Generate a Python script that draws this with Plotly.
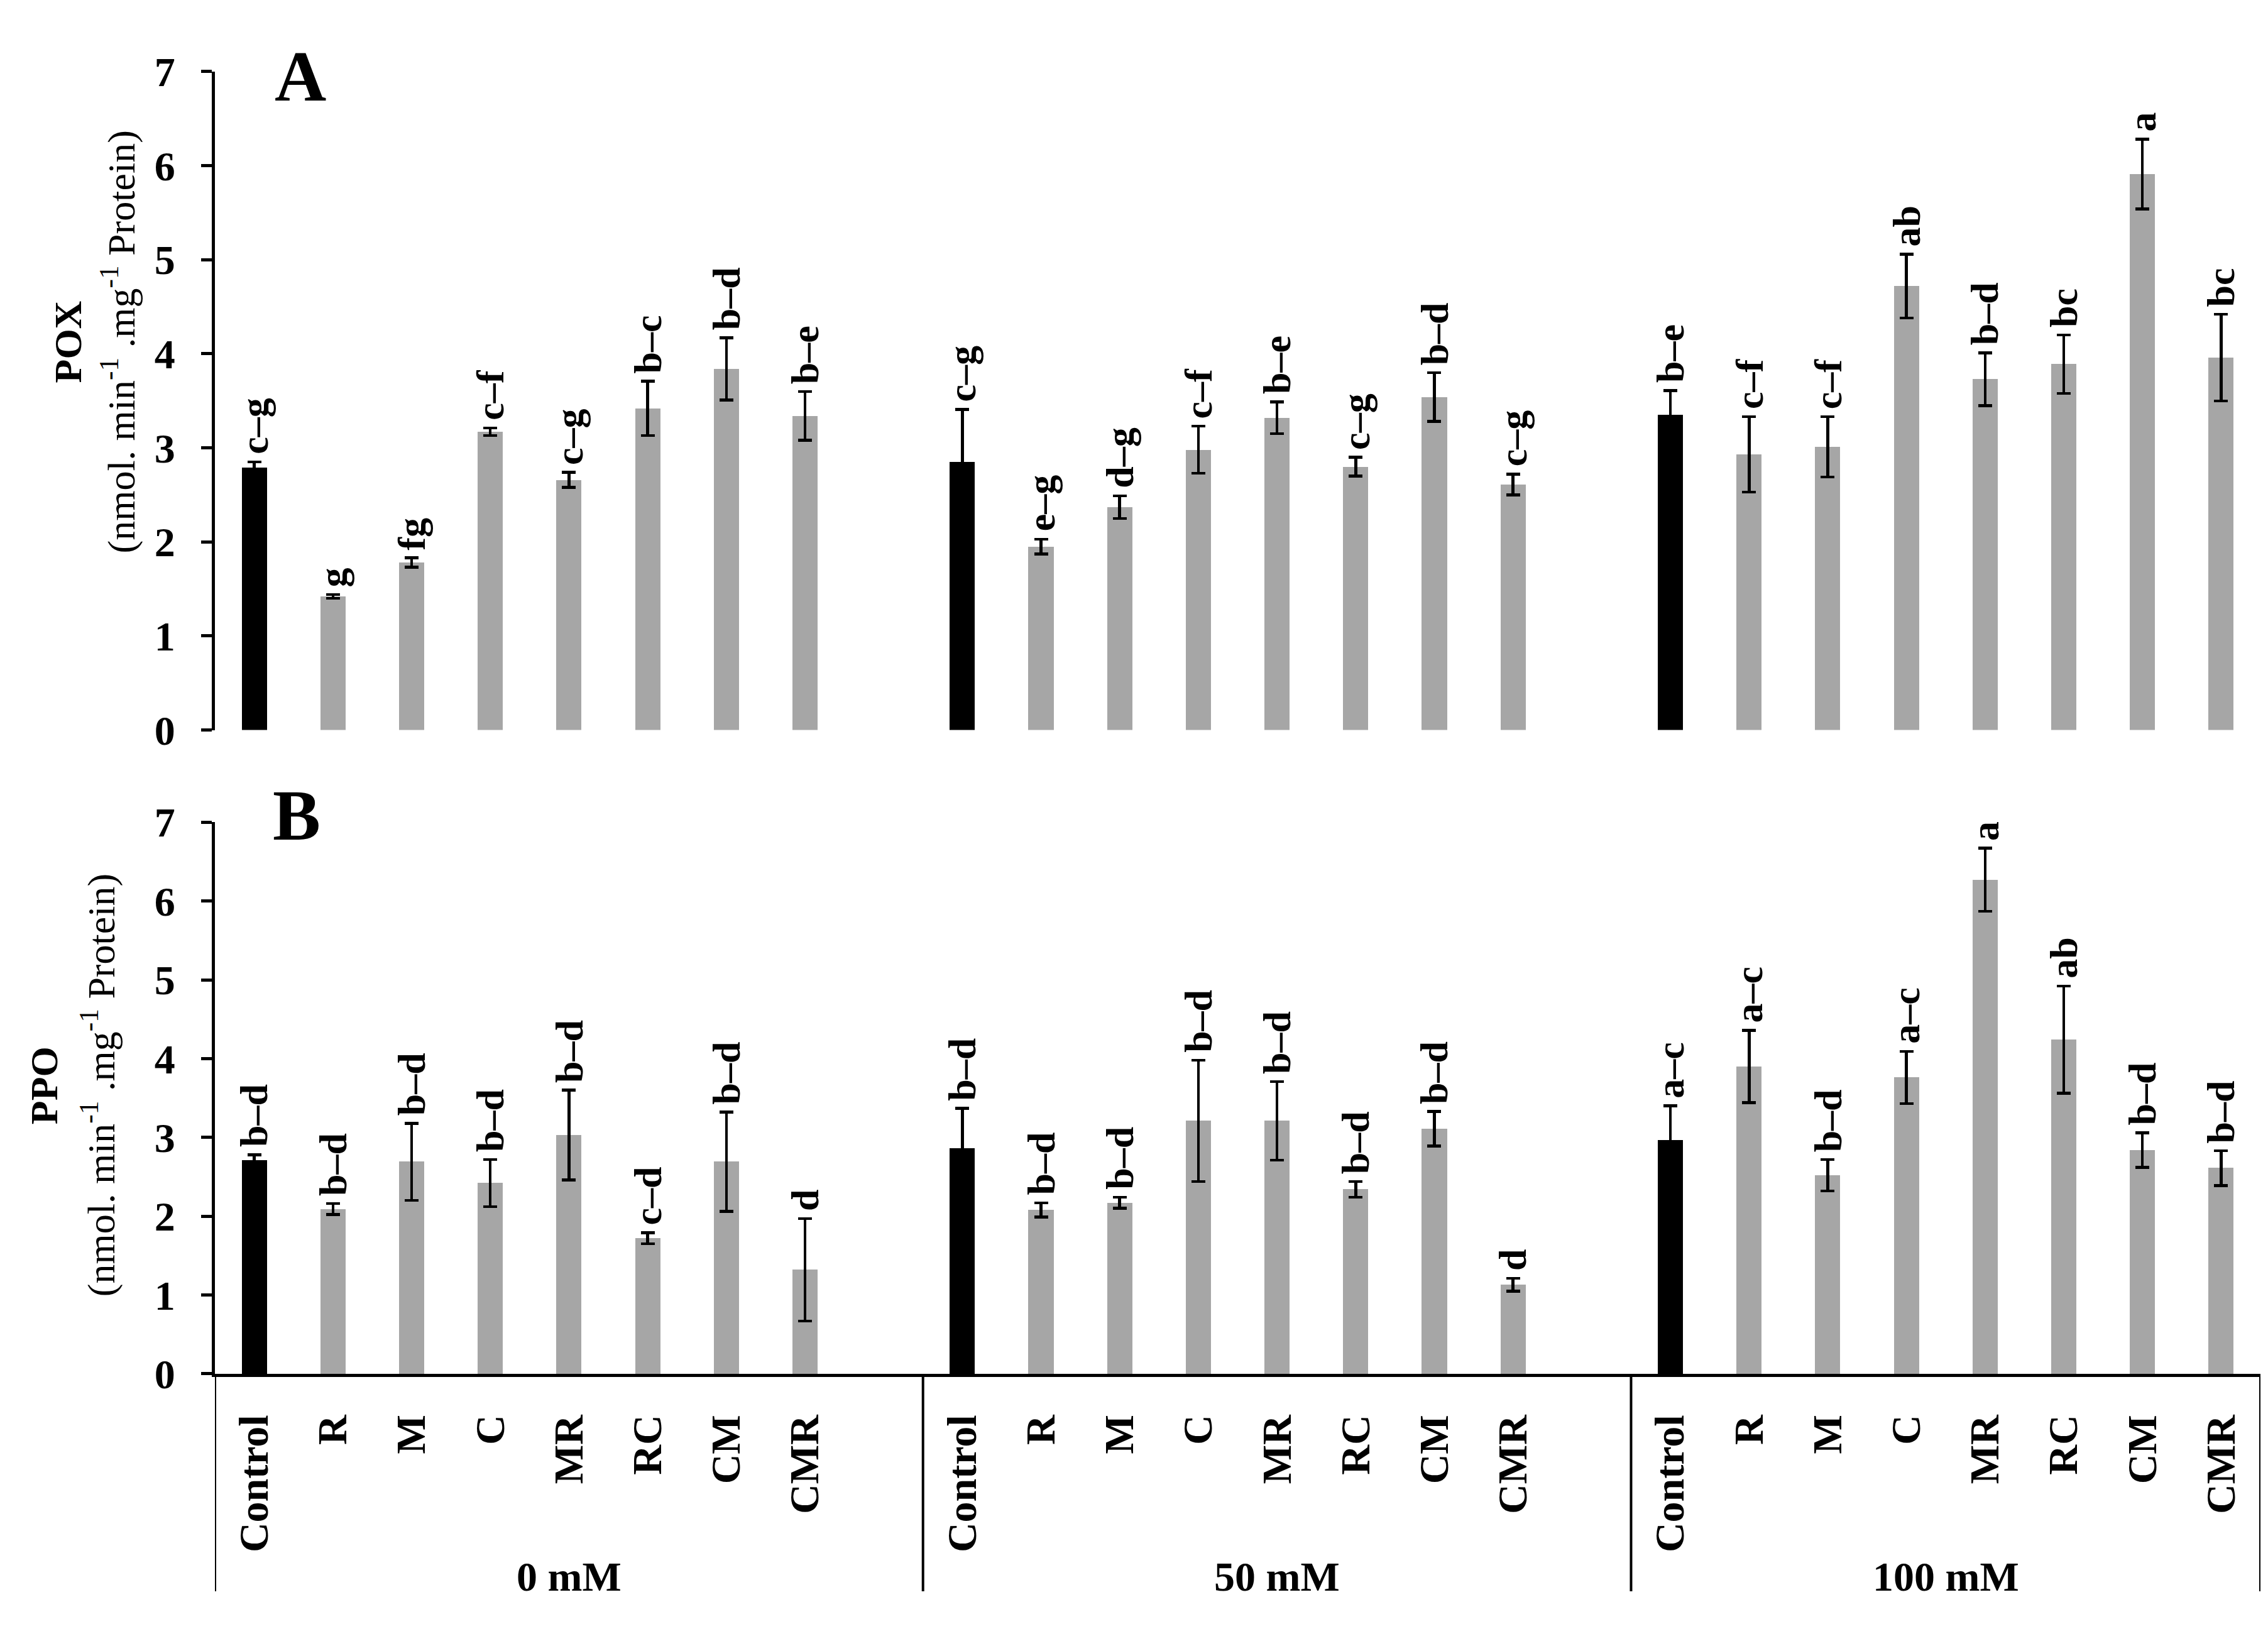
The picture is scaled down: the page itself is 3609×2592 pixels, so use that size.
import plotly.graph_objects as go

# ---------------- data ----------------
treatments = ["Control", "R", "M", "C", "MR", "RC", "CM", "CMR"]
groups = ["0 mM", "50 mM", "100 mM"]

pox_0 = [2.79, 1.42, 1.78, 3.17, 2.66, 3.42, 3.84, 3.34]
pox_50 = [2.85, 1.95, 2.37, 2.98, 3.32, 2.80, 3.54, 2.61]
pox_100 = [3.35, 2.93, 3.01, 4.72, 3.73, 3.89, 5.91, 3.96]
pox_err_0 = [0.06, 0.02, 0.05, 0.04, 0.08, 0.29, 0.33, 0.26]
pox_err_50 = [0.56, 0.08, 0.12, 0.25, 0.17, 0.10, 0.26, 0.11]
pox_err_100 = [0.26, 0.40, 0.32, 0.34, 0.28, 0.31, 0.37, 0.46]
pox_let_0 = ["c–g", "g", "fg", "c–f", "c–g", "b–c", "b–d", "b–e"]
pox_let_50 = ["c–g", "e–g", "d–g", "c–f", "b–e", "c–g", "b–d", "c–g"]
pox_let_100 = ["b–e", "c–f", "c–f", "ab", "b–d", "bc", "a", "bc"]

ppo_0 = [2.71, 2.09, 2.69, 2.42, 3.03, 1.72, 2.69, 1.32]
ppo_50 = [2.86, 2.08, 2.17, 3.21, 3.21, 2.34, 3.11, 1.13]
ppo_100 = [2.96, 3.90, 2.52, 3.76, 6.27, 4.24, 2.84, 2.61]
ppo_err_0 = [0.07, 0.07, 0.49, 0.30, 0.57, 0.07, 0.63, 0.65]
ppo_err_50 = [0.51, 0.09, 0.07, 0.77, 0.50, 0.10, 0.22, 0.08]
ppo_err_100 = [0.44, 0.46, 0.20, 0.33, 0.40, 0.68, 0.22, 0.22]
ppo_let_0 = ["b–d", "b–d", "b–d", "b–d", "b–d", "c–d", "b–d", "d"]
ppo_let_50 = ["b–d", "b–d", "b–d", "b–d", "b–d", "b–d", "b–d", "d"]
ppo_let_100 = ["a–c", "a–c", "b–d", "a–c", "a", "ab", "b–d", "b–d"]

# ---------------- styling ----------------
W, H = 3609, 2592
FONT = "Liberation Serif, Times New Roman, serif"
BLACK = "#000000"
GRAY = "#A6A6A6"
FS = 62        # bar letters / axis titles
FS_T = 66      # tick labels / group labels

slots_per_group = len(treatments) + 1
xs = [g * slots_per_group + i for g in range(len(groups)) for i in range(len(treatments))]
tick_text = treatments * len(groups)
colors = [BLACK if t == "Control" else GRAY for t in tick_text]

pox = pox_0 + pox_50 + pox_100
pox_err = pox_err_0 + pox_err_50 + pox_err_100
pox_let = pox_let_0 + pox_let_50 + pox_let_100
ppo = ppo_0 + ppo_50 + ppo_100
ppo_err = ppo_err_0 + ppo_err_50 + ppo_err_100
ppo_let = ppo_let_0 + ppo_let_50 + ppo_let_100

xmin, xmax = -0.5, len(groups) * slots_per_group - 1.5

def px_to_paper_y(py):
    return 1 - py / H

def px_to_paper_x(px):
    return px / W

domA = [px_to_paper_y(1150), px_to_paper_y(72)]
domB = [px_to_paper_y(2204), px_to_paper_y(1301)]
domX = [px_to_paper_x(334), px_to_paper_x(3589)]

fig = go.Figure()

for vals, errs, xa, ya in [(pox, pox_err, "x", "y"), (ppo, ppo_err, "x2", "y2")]:
    fig.add_trace(go.Bar(
        x=xs, y=vals, width=0.32, xaxis=xa, yaxis=ya,
        marker=dict(color=colors, line=dict(width=0)),
        error_y=dict(type="data", array=errs, visible=True, color=BLACK,
                     thickness=4.5, width=11),
        showlegend=False,
    ))

annotations = []
for vals, errs, lets, xa, ya in [(pox, pox_err, pox_let, "x", "y"),
                                  (ppo, ppo_err, ppo_let, "x2", "y2")]:
    for x, v, e, t in zip(xs, vals, errs, lets):
        annotations.append(dict(
            x=x, y=v + e, xref=xa, yref=ya, text="<b>" + t + "</b>", textangle=-90,
            showarrow=False, xanchor="center", yanchor="bottom", yshift=10,
            font=dict(family=FONT, size=FS, color=BLACK),
        ))

# panel letters
annotations.append(dict(x=px_to_paper_x(470), y=px_to_paper_y(80), xref="paper", yref="paper",
                        text="<b>A</b>", showarrow=False, xanchor="center", yanchor="middle",
                        font=dict(family=FONT, size=114, color=BLACK)))
annotations.append(dict(x=px_to_paper_x(464), y=px_to_paper_y(1290), xref="paper", yref="paper",
                        text="<b>B</b>", showarrow=False, xanchor="center", yanchor="middle",
                        font=dict(family=FONT, size=114, color=BLACK)))

unit_text = "(nmol. min<sup>-1</sup> .mg<sup>-1</sup> Protein)"
for name, xb, xu, yc in [("POX", 100, 180, 515), ("PPO", 62, 148, 1732)]:
    annotations.append(dict(x=px_to_paper_x(xb), y=px_to_paper_y(yc), xref="paper", yref="paper",
                            text="<b>" + name + "</b>", textangle=-90, showarrow=False,
                            xanchor="center", yanchor="middle",
                            font=dict(family=FONT, size=FS, color=BLACK)))
    annotations.append(dict(x=px_to_paper_x(xu), y=px_to_paper_y(yc), xref="paper", yref="paper",
                            text=unit_text, textangle=-90, showarrow=False,
                            xanchor="center", yanchor="middle",
                            font=dict(family=FONT, size=FS, color=BLACK)))

# group labels
for g, name in enumerate(groups):
    left = g * slots_per_group - 0.5
    right = min((g + 1) * slots_per_group - 0.5, xmax)
    annotations.append(dict(x=(left + right) / 2, y=px_to_paper_y(2536), xref="x2", yref="paper",
                            text="<b>" + name + "</b>", showarrow=False,
                            xanchor="center", yanchor="middle",
                            font=dict(family=FONT, size=FS_T, color=BLACK)))

shapes = []
bottom = px_to_paper_y(2560)
sep_x = [xmin] + [g * slots_per_group - 0.5 for g in range(1, len(groups))] + [xmax]
for sx in sep_x:
    shapes.append(dict(type="line", xref="x2", yref="paper", x0=sx, x1=sx,
                       y0=domB[0], y1=bottom, line=dict(color=BLACK, width=4)))

yaxis_common = dict(range=[0, 7], dtick=1, tick0=0, showgrid=False, zeroline=False,
                    showline=True, linecolor=BLACK, linewidth=5,
                    ticks="outside", ticklen=17, tickwidth=5, tickcolor=BLACK,
                    ticklabelstandoff=28,
                    tickfont=dict(family=FONT, size=FS_T, color=BLACK, weight="bold"),
                    fixedrange=True)

fig.update_layout(
    width=W, height=H,
    margin=dict(l=0, r=0, t=0, b=0),
    paper_bgcolor="white", plot_bgcolor="white",
    xaxis=dict(domain=domX, range=[xmin, xmax], anchor="y", showline=False,
               showticklabels=False, ticks="", showgrid=False, zeroline=False),
    yaxis=dict(domain=domA, anchor="x", **yaxis_common),
    xaxis2=dict(domain=domX, range=[xmin, xmax], anchor="y2", showline=True,
                linecolor=BLACK, linewidth=5, ticks="", showgrid=False, zeroline=False,
                tickmode="array", tickvals=xs, ticktext=tick_text, tickangle=-90,
                ticklabelstandoff=34,
                tickfont=dict(family=FONT, size=FS_T, color=BLACK, weight="bold")),
    yaxis2=dict(domain=domB, anchor="x2", **yaxis_common),
    annotations=annotations,
    shapes=shapes,
    bargap=0,
)

fig.write_html("out.html")
